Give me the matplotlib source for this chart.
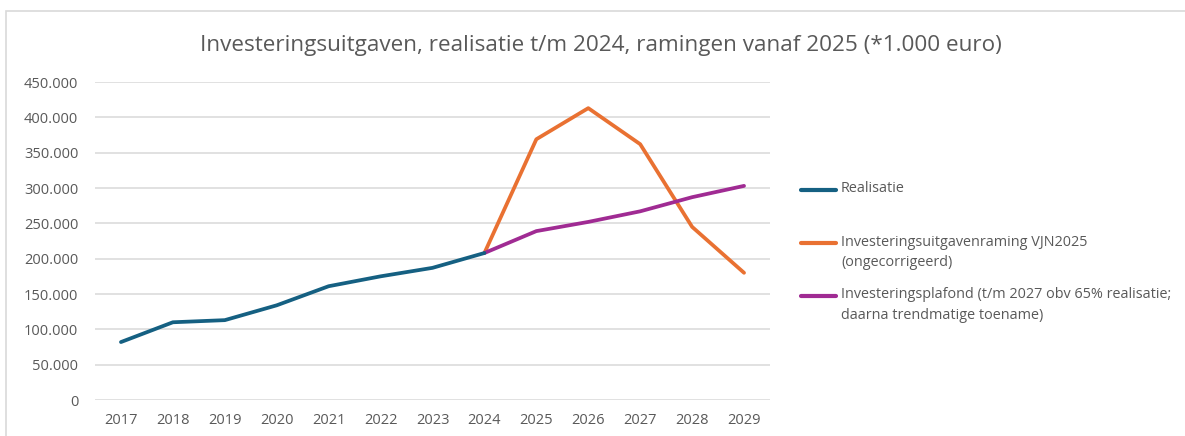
import matplotlib.pyplot as plt
import matplotlib.patches as mpatches
from matplotlib.lines import Line2D
from matplotlib.ticker import FuncFormatter

#=========================================#
#  data (*1.000 euro)                      #
#=========================================#
years = [2017, 2018, 2019, 2020, 2021, 2022, 2023, 2024, 2025, 2026, 2027, 2028, 2029]

real_years = [2017, 2018, 2019, 2020, 2021, 2022, 2023, 2024]
realisatie = [82000, 110000, 113000, 134000, 161000, 175000, 187000, 208000]

raming_years = [2024, 2025, 2026, 2027, 2028, 2029]
raming = [208000, 369000, 413000, 362000, 245000, 180000]

plafond_years = [2024, 2025, 2026, 2027, 2028, 2029]
plafond = [208000, 239000, 252000, 267000, 287000, 303000]

labels = ['Realisatie',
          'Investeringsuitgavenraming VJN2025\n(ongecorrigeerd)',
          'Investeringsplafond (t/m 2027 obv 65% realisatie;\ndaarna trendmatige toename)']

grey = '#595959'
plt.rcParams['font.family'] = ['Open Sans', 'DejaVu Sans']

fig = plt.figure(figsize=(11.85, 4.36), dpi=100)
ax = fig.add_axes([95/1185, 36/436, 675/1185, 318/436])

# outer chart frame
fig.add_artist(mpatches.Rectangle((6/1185, -0.05), 1.2, (436-11)/436 + 0.05,
                                  transform=fig.transFigure, fill=False,
                                  edgecolor='#d9d9d9', lw=1.2))

l1, = ax.plot(real_years, realisatie, color='#156082', lw=2.7, solid_capstyle='round', zorder=3)
l2, = ax.plot(raming_years, raming, color='#E97132', lw=2.7, solid_capstyle='round', zorder=2)
l3, = ax.plot(plafond_years, plafond, color='#A02B93', lw=2.7, solid_capstyle='round', zorder=2)

ax.set_xlim(2016.5, 2029.5)
ax.set_ylim(0, 450000)
ax.set_xticks(years)
ax.set_yticks(range(0, 450001, 50000))
ax.yaxis.set_major_formatter(FuncFormatter(lambda v, p: f'{int(v):,}'.replace(',', '.')))
ax.grid(axis='y', color='#d9d9d9', lw=1.1)
ax.set_axisbelow(True)
for s in ax.spines.values():
    s.set_visible(False)
ax.tick_params(length=0, labelsize=10.5, colors=grey)
ax.tick_params(axis='y', pad=12)
ax.tick_params(axis='x', pad=9)

fig.text(601/1185, 1 - 45/436, 'Investeringsuitgaven, realisatie t/m 2024, ramingen vanaf 2025 (*1.000 euro)',
         ha='center', va='center', fontsize=16.2, color=grey)

#==== hand-placed legend (Excel style) ====#
for line, lab, yy in zip([l1, l2, l3], labels, [190, 243, 296]):
    fig.add_artist(Line2D([801/1185, 836/1185], [1 - yy/436, 1 - yy/436], transform=fig.transFigure,
                          color=line.get_color(), lw=3, solid_capstyle='round'))
    fig.text(841/1185, 1 - (yy - 8.5)/436, lab, ha='left', va='top', fontsize=10.4,
             color=grey, linespacing=1.5)

plt.savefig('out.png', dpi=100)
